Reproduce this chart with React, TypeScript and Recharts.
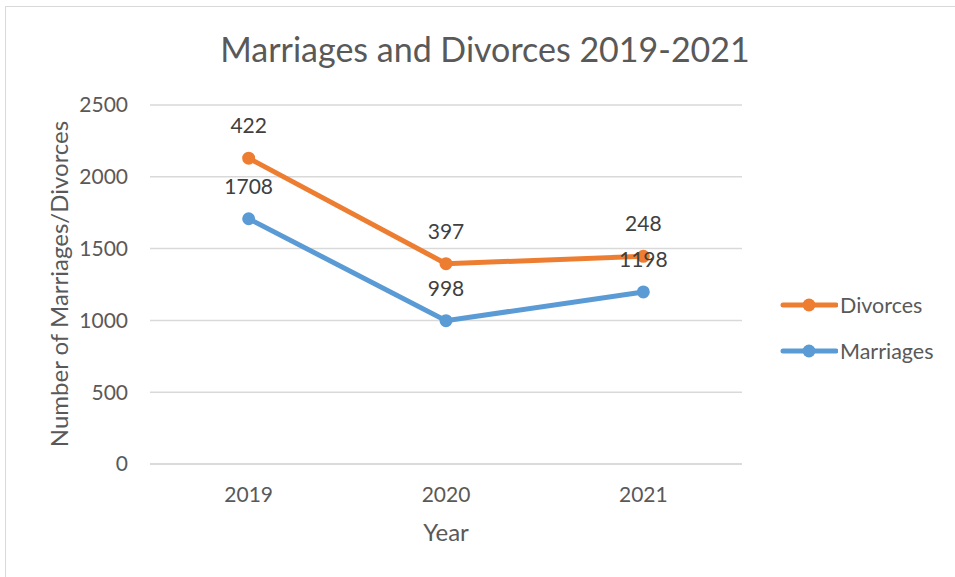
import React from "react";
import {
  CartesianGrid,
  LabelList,
  Line,
  LineChart,
  XAxis,
  YAxis,
} from "recharts";

// Datos (Excel: líneas apiladas, Divorces sobre Marriages)
const years = ["2019", "2020", "2021"];
const marriages = [1708, 998, 1198];
const divorces = [422, 397, 248];
const yTicks = [0, 500, 1000, 1500, 2000, 2500];

const ORANGE = "#ED7D31";
const BLUE = "#5B9BD5";
const FONT = "Lato, 'Open Sans', sans-serif";

const data = years.map((year, i) => ({
  year,
  marriages: marriages[i],
  divorces: divorces[i],
  divorcesStacked: marriages[i] + divorces[i],
}));

const legendItems = [
  { name: "Divorces", color: ORANGE },
  { name: "Marriages", color: BLUE },
];

const LegendBox = () => (
  <div style={{ position: "absolute", left: 780, top: 282, fontFamily: FONT }}>
    {legendItems.map((item) => (
      <div
        key={item.name}
        style={{ display: "flex", alignItems: "center", height: 46 }}
      >
        <svg width={58} height={20}>
          <line x1={3} y1={10} x2={56} y2={10} stroke={item.color} strokeWidth={5} strokeLinecap="round" />
          <circle cx={29} cy={10} r={6.5} fill={item.color} />
        </svg>
        <span style={{ fontSize: 21.5, color: "#595959", marginLeft: 2 }}>{item.name}</span>
      </div>
    ))}
  </div>
);

export default function App() {
  return (
    <div
      style={{
        position: "absolute",
        left: 0,
        top: 0,
        width: 955,
        height: 577,
        overflow: "hidden",
        background: "#fff",
        fontFamily: FONT,
      }}
    >
      {/* borde del gráfico */}
      <div
        style={{
          position: "absolute",
          left: 5,
          top: 6,
          width: 1000,
          height: 1000,
          border: "1px solid #d9d9d9",
        }}
      />
      <div
        style={{
          position: "absolute",
          left: 0,
          width: 970,
          top: 28,
          textAlign: "center",
          fontSize: 34,
          color: "#595959",
        }}
      >
        Marriages and Divorces 2019-2021
      </div>
      <div style={{ position: "absolute", left: 0, top: 0 }}>
        <LineChart
          width={955}
          height={577}
          data={data}
          margin={{ top: 105, right: 213, bottom: 0, left: 0 }}
        >
          <CartesianGrid vertical={false} stroke="#d9d9d9" strokeWidth={1.5} />
          <XAxis
            dataKey="year"
            scale="band"
            axisLine={{ stroke: "#d9d9d9", strokeWidth: 1.5 }}
            tickLine={false}
            tickSize={0}
            tickMargin={23}
            tick={{ fontSize: 21, fill: "#595959", fontFamily: FONT }}
            height={113}
            label={{
              content: () => (
                <text x={446} y={541} textAnchor="middle" fontSize={24} fill="#595959" fontFamily={FONT}>
                  Year
                </text>
              ),
            }}
          />
          <YAxis
            width={150}
            domain={[0, 2500]}
            ticks={yTicks}
            axisLine={false}
            tickLine={false}
            tickSize={0}
            tickMargin={22}
            tick={{ fontSize: 21, fill: "#595959", fontFamily: FONT }}
            label={{
              content: () => (
                <text
                  x={0}
                  y={0}
                  transform="translate(68 284) rotate(-90)"
                  textAnchor="middle"
                  fontSize={24}
                  fill="#595959"
                  fontFamily={FONT}
                >
                  Number of Marriages/Divorces
                </text>
              ),
            }}
          />
          <Line
            dataKey="divorcesStacked"
            name="Divorces"
            stroke={ORANGE}
            strokeWidth={5}
            dot={{ r: 5.5, fill: ORANGE, stroke: ORANGE, strokeWidth: 2 }}
            activeDot={false}
            isAnimationActive={false}
          >
            <LabelList
              dataKey="divorces"
              position="top"
              offset={25}
              fontSize={21}
              fill="#404040"
              fontFamily={FONT}
            />
          </Line>
          <Line
            dataKey="marriages"
            name="Marriages"
            stroke={BLUE}
            strokeWidth={5}
            dot={{ r: 5.5, fill: BLUE, stroke: BLUE, strokeWidth: 2 }}
            activeDot={false}
            isAnimationActive={false}
          >
            <LabelList
              dataKey="marriages"
              position="top"
              offset={25}
              fontSize={21}
              fill="#404040"
              fontFamily={FONT}
            />
          </Line>
        </LineChart>
      </div>
      <LegendBox />
    </div>
  );
}
